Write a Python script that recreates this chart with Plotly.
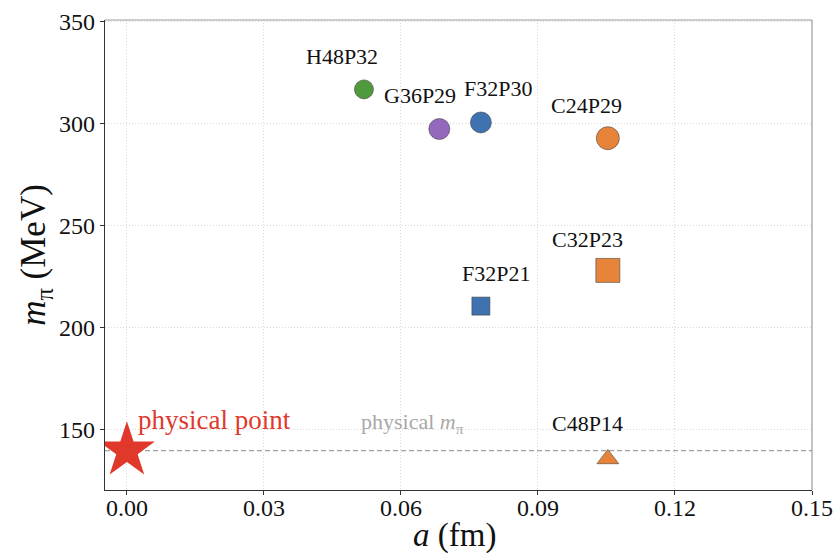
import plotly.graph_objects as go

# Data
ensembles = ["C24P29", "C32P23", "C48P14", "F32P30", "F32P21", "G36P29", "H48P32"]
a_fm = [0.1053, 0.1053, 0.1053, 0.0775, 0.0775, 0.0684, 0.0519]
m_pi = [292.7, 227.9, 135.5, 300.4, 210.4, 297.2, 316.6]
symbols = ["circle", "square", "triangle-up", "circle", "square", "circle", "circle"]
colors = ["#e8843a", "#e8843a", "#e8843a", "#3f72b0", "#3f72b0", "#9468bd", "#4e9a3c"]
sizes = [23, 24, 19, 21, 18, 21, 19]
label_x = [0.1006, 0.1008, 0.1008, 0.0813, 0.0808, 0.0642, 0.0471]
label_y = [308.8, 243.1, 152.9, 317.1, 226.5, 313.7, 332.8]
phys_a = [0.0]
phys_mpi = [139.57]

FONT = "Liberation Serif"

fig = go.Figure()

# physical m_pi dashed line
fig.add_shape(type="line", xref="paper", yref="y", x0=0, x1=1, y0=phys_mpi[0], y1=phys_mpi[0],
              line=dict(color="#a0a0a0", width=1.3, dash="5px,3px"), layer="below")

for i, name in enumerate(ensembles):
    fig.add_trace(go.Scatter(
        x=[a_fm[i]], y=[m_pi[i]], mode="markers", name=name, showlegend=False,
        marker=dict(symbol=symbols[i], size=sizes[i], color=colors[i],
                    line=dict(color="rgba(60,60,60,0.7)", width=0.8)),
    ))
    fig.add_annotation(x=label_x[i], y=label_y[i], text=name, showarrow=False,
                       font=dict(family=FONT, size=22, color="#111111"))

fig.add_trace(go.Scatter(
    x=phys_a, y=phys_mpi, mode="markers", showlegend=False,
    marker=dict(symbol="star", size=42, color="#e0382b", line=dict(width=0)),
))
fig.add_annotation(x=0.002, y=154.4, text="physical point", showarrow=False, xanchor="left",
                   font=dict(family=FONT, size=27, color="#e0382b"))
fig.add_annotation(x=0.0626, y=152.9, text="physical <i>m</i><sub>π</sub>", showarrow=False,
                   font=dict(family=FONT, size=22, color="#a8a8a8"))

# x-axis title placed below tick labels
fig.add_annotation(xref="paper", yref="paper", x=0.495, y=-0.097, yanchor="middle",
                   text="<i>a</i> (fm)", showarrow=False,
                   font=dict(family=FONT, size=33, color="#111111"))

axis_common = dict(
    showgrid=True, gridcolor="#d8d8d8", griddash="1px,2px", gridwidth=1,
    zeroline=False, ticks="outside", ticklen=4, tickcolor="#333333",
    tickfont=dict(family=FONT, size=24, color="#111111"),
    showline=True, linecolor="#333333", linewidth=1.3, automargin=False,
)

fig.update_xaxes(range=[-0.0048, 0.15], tickvals=[0, 0.03, 0.06, 0.09, 0.12, 0.15],
                 tickformat=".2f", mirror=False, ticklabelstandoff=-8,
                 **axis_common)
fig.update_yaxes(range=[120.3, 350.6], tickvals=[150, 200, 250, 300, 350],
                 title=dict(text="<i>m</i><sub>π</sub> (MeV)", font=dict(family=FONT, size=35, color="#111111"),
                            standoff=2),
                 **axis_common)

# top and right gray frame
fig.add_shape(type="line", xref="paper", yref="paper", x0=0, x1=1, y0=1, y1=1,
              line=dict(color="#9a9a9a", width=1.2))
fig.add_shape(type="line", xref="paper", yref="paper", x0=1, x1=1, y0=0, y1=1,
              line=dict(color="#9a9a9a", width=1.2))

fig.update_layout(
    width=839, height=554,
    margin=dict(l=105, r=27, t=20, b=64),
    plot_bgcolor="white", paper_bgcolor="white",
    font=dict(family=FONT),
)

fig.write_html("out.html")
